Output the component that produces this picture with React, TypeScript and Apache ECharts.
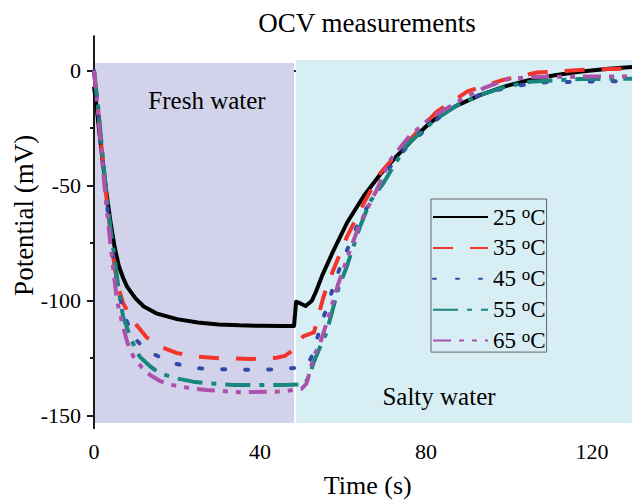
import React, { useEffect, useRef } from 'react';
import * as echarts from 'echarts';

const seriesNames = ['25 oC', '35 oC', '45 oC', '55 oC', '65 oC'];
const seriesColors = ['#000000', '#f2342c', '#3349aa', '#17877d', '#ad52aa'];

const curve25: number[][] = [
  [0, -7], [0.5, -14], [1, -22], [2, -38], [3, -53], [4, -66], [5, -77], [6, -85], [7, -90], [8, -94],
  [10, -99], [12, -102.5], [15, -105.5], [20, -108], [25, -109.5], [30, -110.3], [35, -110.7], [40, -110.9],
  [45, -111], [48.2, -111], [48.7, -100.5], [49.5, -101], [51, -102.3], [52.5, -100], [53.5, -96],
  [55, -89], [57.5, -79], [61, -66], [65, -54.5], [69, -45], [73, -37], [77, -29.5], [81, -22.5],
  [87, -15.5], [93, -10.6], [99, -6.8], [105, -4], [111, -2], [117, -0.5], [124, 0.8], [130, 1.7],
];
const curve35: number[][] = [
  [0, 0], [1, -17], [2, -37], [3, -55], [4, -71], [5, -86], [6, -95], [7, -101], [8.5, -106], [10, -110],
  [12.7, -116], [16, -120], [20, -122.8], [25, -124.3], [30, -125], [38, -125.3], [44, -124.8], [46, -124],
  [48, -121.4], [50.4, -115.5], [53, -113.8], [54, -107], [55.3, -98.3], [57, -89.6], [61, -72], [65, -57.7],
  [69, -44.5], [75, -32], [82.6, -17.8], [90, -9], [98.6, -4], [106.7, -0.8], [117, 0.3], [130, 1],
];
const curve45: number[][] = [
  [0, 0], [1, -17], [2, -37], [3, -56], [4, -72], [5, -86], [6, -97], [7.5, -107], [9.4, -115.7], [11.5, -119.5],
  [13.9, -122.8], [19, -127.2], [25.5, -129.4], [35, -130.1], [45.6, -129.8], [50.8, -128.7], [52.3, -125],
  [53.3, -120], [54.5, -111.3], [56.5, -101], [58, -91.7], [60, -82.3], [62, -73.6], [64, -65], [67.3, -54.8],
  [71.3, -42], [75, -34], [79.3, -26.5], [84, -19], [89, -13.5], [93, -10.5], [98.6, -7.7], [104, -6],
  [109, -5], [121, -4.7], [130, -4.5],
];
const curve55: number[][] = [
  [0, 0], [1, -16], [2, -35], [3, -54], [4, -69], [5, -82], [6, -96], [7, -107], [9, -117], [11, -124.3],
  [13.5, -128.5], [15.9, -131.6], [20, -133.8], [23.9, -135.2], [28, -136], [33.6, -136.6], [45.6, -136.7],
  [50.8, -136.3], [51.8, -133], [52.9, -127], [54.5, -120], [56, -114], [57.7, -102.6], [59, -94], [60.9, -85.2],
  [64.1, -67.8], [66.5, -57], [69.7, -49], [75.3, -32.3], [82.6, -20.7], [88, -14.5], [93, -10.6], [99, -7],
  [105, -4.8], [117, -3.6], [130, -3.5],
];
const curve65: number[][] = [
  [0, 0], [1, -19], [2, -40], [3, -59], [4, -76], [5.5, -99.7], [7, -111.3], [8, -118], [9.5, -124.3],
  [11.5, -129], [13.5, -132.3], [16, -135], [19, -136.7], [23, -138], [27, -138.8], [35, -139.8], [45.6, -139.5],
  [48, -138.8], [50, -138.3], [51.2, -136], [52, -131], [52.9, -124.3], [54.5, -118.5], [56.5, -107],
  [58.9, -92.4], [61.7, -78], [64.1, -66.3], [68.1, -51.9], [71.3, -39], [76, -28.5], [81, -20.7], [89, -12],
  [94, -7.5], [99.4, -3.8], [105, -2.8], [113, -2.6], [130, -2.5],
];

const xTickValues = [0, 40, 80, 120];
const xMinorTickValues = [20, 60, 100];
const yTickValues = [-150, -100, -50, 0];
const yMinorTickValues = [-125, -75, -25];

const freshRange = [0.25, 48.2];
const saltyRange = [48.65, 130];
const regionTop = [3.4, 4.6];
const regionBottom = -153.2;

const FONT = 'Liberation Serif';

export default function App() {
  const ref = useRef<HTMLDivElement>(null);
  useEffect(() => {
    const chart = echarts.init(ref.current as HTMLDivElement, null, { renderer: 'svg' });
    const curves = [curve25, curve35, curve45, curve55, curve65];
    const dashes: any[] = ['solid', [20, 17], [3, 20], [25, 9, 5, 9], [18, 8, 5, 8, 5, 8]];
    const caps = ['butt', 'butt', 'round', 'butt', 'butt'];
    const axisLineStyle = { color: '#1a1a1a', width: 2 };
    const option: any = {
      animation: false,
      backgroundColor: '#ffffff',
      title: {
        text: 'OCV measurements',
        left: 367,
        top: 9,
        padding: 0,
        textAlign: 'center',
        textStyle: { fontFamily: FONT, fontSize: 27, fontWeight: 'normal', color: '#000' },
      },
      grid: {
        left: 94, top: 36.2, width: 539.5, height: 392.15,
        containLabel: false, outerBoundsMode: 'none',
      },
      legend: {
        data: seriesNames,
        orient: 'vertical',
        left: 431,
        top: 199,
        padding: [5, 1, 0, 1],
        itemWidth: 55,
        itemHeight: 14,
        itemGap: 6.4,
        borderColor: '#666',
        borderWidth: 1,
        borderRadius: 0,
        backgroundColor: 'transparent',
        itemStyle: { opacity: 0, borderWidth: 0 },
        formatter: (name: string) => {
          const num = name.split(' ')[0];
          return '{n|' + num + ' }{sup|o}{n|C}';
        },
        textStyle: {
          fontFamily: FONT,
          fontSize: 23,
          color: '#000',
          rich: {
            n: { fontFamily: FONT, fontSize: 23, lineHeight: 26, color: '#000' },
            sup: { fontFamily: FONT, fontSize: 17, lineHeight: 13, verticalAlign: 'top', color: '#000' },
          },
        },
      },
      xAxis: [
        {
          type: 'value',
          min: 0,
          max: 130,
          name: 'Time (s)',
          nameLocation: 'middle',
          nameGap: 44,
          nameMoveOverlap: false,
          nameTextStyle: { fontFamily: FONT, fontSize: 26, color: '#000', padding: [0, 0, 0, 8] },
          axisLine: { show: true, lineStyle: axisLineStyle },
          axisTick: { show: true, length: 7, inside: false, lineStyle: axisLineStyle, customValues: xTickValues },
          axisLabel: { fontFamily: FONT, fontSize: 22, color: '#000', margin: 12, customValues: xTickValues },
          splitLine: { show: false },
        },
        {
          type: 'value',
          min: 0,
          max: 130,
          position: 'bottom',
          axisLine: { show: false },
          axisTick: { show: true, length: 4, inside: false, lineStyle: axisLineStyle, customValues: xMinorTickValues },
          axisLabel: { show: false },
          splitLine: { show: false },
        },
      ],
      yAxis: [
        {
          type: 'value',
          min: -155.5,
          max: 15,
          name: 'Potential (mV)',
          nameLocation: 'middle',
          nameGap: 57,
          nameMoveOverlap: false,
          nameTextStyle: { fontFamily: FONT, fontSize: 27, color: '#000', padding: [0, 0, 0, 34] },
          axisLine: { show: true, lineStyle: axisLineStyle },
          axisTick: { show: true, length: 7, inside: false, lineStyle: axisLineStyle, customValues: yTickValues },
          axisLabel: { fontFamily: FONT, fontSize: 22, color: '#000', margin: 13, customValues: yTickValues },
          splitLine: { show: false },
        },
        {
          type: 'value',
          min: -155.5,
          max: 15,
          position: 'left',
          axisLine: { show: false },
          axisTick: { show: true, length: 4, inside: false, lineStyle: axisLineStyle, customValues: yMinorTickValues },
          axisLabel: { show: false },
          splitLine: { show: false },
        },
      ],
      graphic: [
        {
          type: 'text',
          x: 207,
          y: 100,
          z: 50,
          style: { text: 'Fresh water', fontFamily: FONT, fontSize: 25, fill: '#000', textAlign: 'center', textVerticalAlign: 'middle' },
        },
        {
          type: 'text',
          x: 439,
          y: 396.5,
          z: 50,
          style: { text: 'Salty water', fontFamily: FONT, fontSize: 25, fill: '#000', textAlign: 'center', textVerticalAlign: 'middle' },
        },
      ],
      series: [
        {
          name: 'regions',
          type: 'line',
          data: [],
          z: 1,
          silent: true,
          markArea: {
            silent: true,
            label: { show: false },
            data: [
              [
                { coord: [freshRange[0], regionTop[0]], itemStyle: { color: '#d2d3ea' } },
                { coord: [freshRange[1], regionBottom] },
              ],
              [
                { coord: [saltyRange[0], regionTop[1]], itemStyle: { color: '#d7eef5' } },
                { coord: [saltyRange[1], regionBottom] },
              ],
            ],
          },
        },
        ...curves.map((c, i) => ({
          name: seriesNames[i],
          type: 'line',
          data: c,
          symbol: 'none',
          showSymbol: false,
          z: 3 + i,
          itemStyle: { color: seriesColors[i] },
          lineStyle: { color: seriesColors[i], width: 4, type: dashes[i], cap: caps[i], join: 'round' },
        })),
      ],
    };
    chart.setOption(option);
    return () => chart.dispose();
  }, []);
  return <div ref={ref} style={{ position: 'fixed', left: 0, top: 0, width: 632, height: 500, background: '#fff' }} />;
}
